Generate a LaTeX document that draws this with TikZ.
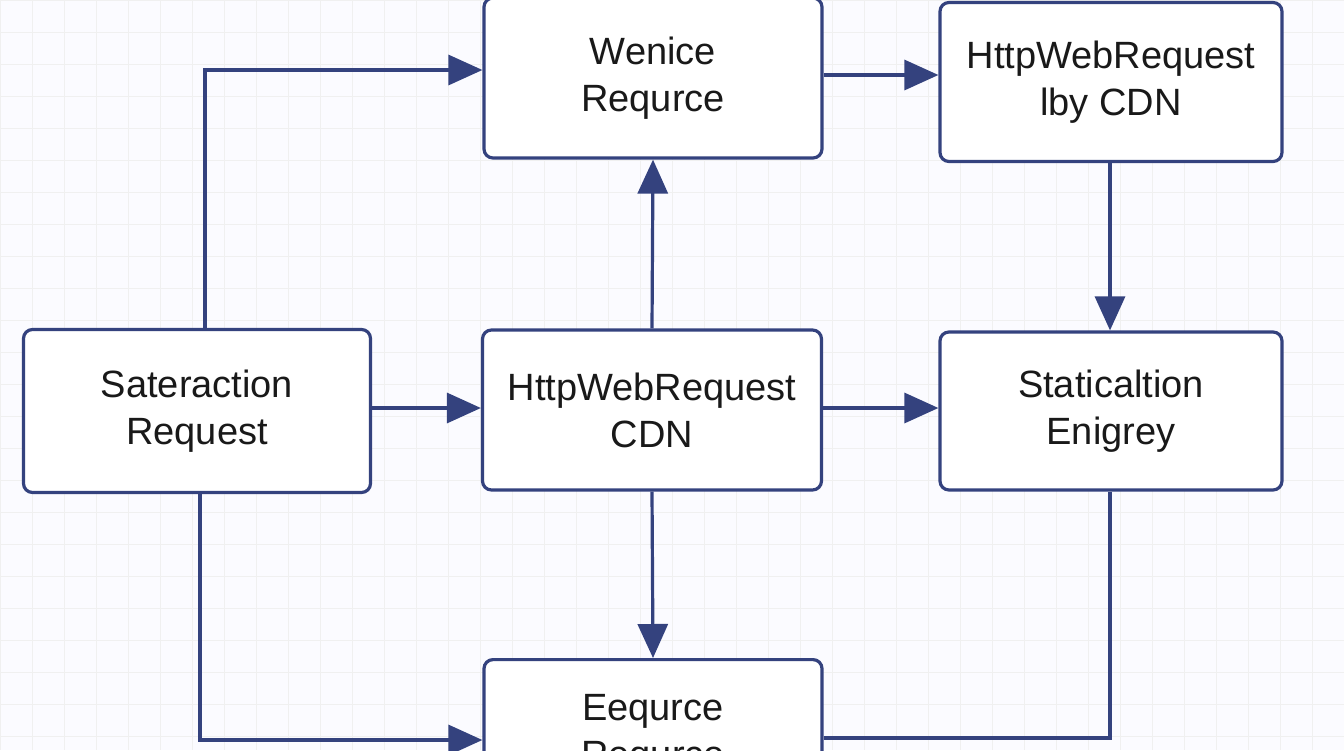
\documentclass[tikz,border=0pt]{standalone}
\usepackage{fontspec}
\setmainfont{Liberation Sans}
\usetikzlibrary{arrows.meta}
\definecolor{navy}{HTML}{34427E}
\begin{document}
\begin{tikzpicture}[x=1pt,y=-1pt,
  box/.style={draw=navy,line width=3.2pt,rounded corners=9pt,fill=white,align=center,
    font=\fontsize{38}{47}\selectfont,text=black!90},
  con/.style={draw=navy,line width=3.2pt},
  arr/.style={con,-{Triangle[length=34pt,width=30pt]}}]
\useasboundingbox (0,0) rectangle (1344,750);
\clip (0,0) rectangle (1344,750);
\fill[white!96!blue!40!white] (0,0) rectangle (1344,750);
\foreach \i in {0,32,...,1344} \draw[black!6,line width=0.5pt] (\i,0) -- (\i,750);
\foreach \i in {0,32,...,750} \draw[black!6,line width=0.5pt] (0,\i) -- (1344,\i);
\node[box,minimum width=338pt,minimum height=160pt] (wen) at (653,78) {Wenice\\Requrce};
\node[box,minimum width=342pt,minimum height=159pt] (lby) at (1111,82) {HttpWebRequest\\lby CDN};
\node[box,minimum width=347pt,minimum height=163pt] (sat) at (197,411) {Sateraction\\Request};
\node[box,minimum width=339pt,minimum height=160pt] (cdn) at (652,410) {HttpWebRequest\\CDN};
\node[box,minimum width=342pt,minimum height=158pt] (sta) at (1111,411) {Staticaltion\\Enigrey};
\node[box,minimum width=338pt,minimum height=150pt,anchor=north] (eeq) at (653,658) {Eequrce\\Requrce};
\coordinate (c1) at (205,70);
\coordinate (c2) at (200,740);
\coordinate (c3) at (1110,738);
\draw[arr] (sat.north -| c1) -- (c1) -- (c1 -| wen.west);
\draw[arr] (wen.east |- 0,75) -- (lby.west |- 0,75);
\draw[arr] (lby.south -| 1110,0) -- (sta.north -| 1110,0);
\draw[arr] (cdn.north) -- (wen.south);
\draw[arr] (sat.east |- 0,408) -- (cdn.west |- 0,408);
\draw[arr] (cdn.east |- 0,408) -- (sta.west |- 0,408);
\draw[arr] (cdn.south) -- (eeq.north);
\draw[arr] (sat.south -| c2) -- (c2) -- (c2 -| eeq.west);
\draw[con] (sta.south -| c3) -- (c3) -- (c3 -| eeq.east);
\end{tikzpicture}
\end{document}
